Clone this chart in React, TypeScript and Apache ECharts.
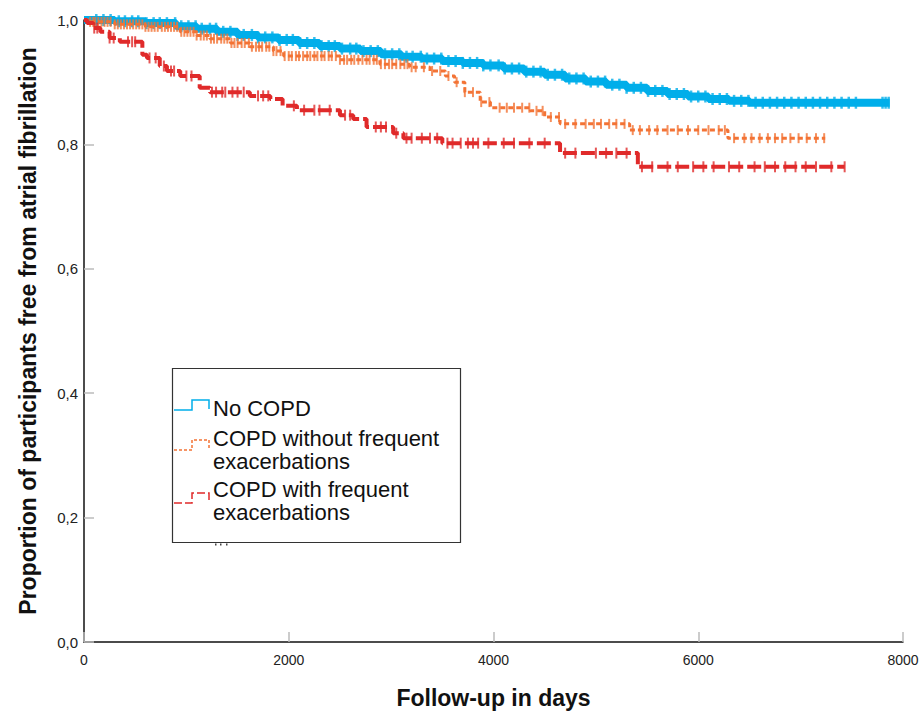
import React, { useEffect, useRef } from 'react';
import * as echarts from 'echarts';

const FONT = "'Liberation Sans', Arial, sans-serif";

const xTicks = [0, 2000, 4000, 6000, 8000];
const yTicks = [0, 0.2, 0.4, 0.6, 0.8, 1.0];

const seriesNames = ['No COPD', 'COPD without frequent\nexacerbations', 'COPD with frequent\nexacerbations'];
const colors = ['#00aeea', '#f37335', '#e02a2a'];

// No COPD
const noCopdTimes = [0, 300, 600, 900, 1100, 1300, 1500, 1700, 1900, 2100, 2300, 2500, 2700, 2900, 3100, 3300, 3500, 3700, 3900, 4100, 4300, 4500, 4700, 4900, 5100, 5300, 5500, 5700, 5900, 6100, 6300, 6500, 7870];
const noCopdSurv = [1.0, 0.998, 0.995, 0.99, 0.986, 0.981, 0.976, 0.972, 0.968, 0.963, 0.958, 0.954, 0.95, 0.945, 0.941, 0.938, 0.934, 0.931, 0.927, 0.922, 0.917, 0.912, 0.906, 0.901, 0.896, 0.891, 0.886, 0.881, 0.877, 0.873, 0.870, 0.867, 0.867];
const noCopdCensor = [120, 190, 260, 340, 400, 470, 530, 610, 680, 740, 810, 890, 950, 1020, 1090, 1150, 1230, 1290, 1360, 1430, 1500, 1560, 1640, 1700, 1770, 1840, 1910, 1980, 2040, 2110, 2180, 2250, 2320, 2390, 2450, 2520, 2600, 2660, 2730, 2800, 2870, 2940, 3010, 3080, 3150, 3210, 3290, 3350, 3420, 3490, 3560, 3630, 3700, 3770, 3840, 3900, 3970, 4050, 4110, 4180, 4250, 4320, 4390, 4460, 4530, 4600, 4670, 4740, 4810, 4880, 4950, 5020, 5090, 5160, 5230, 5300, 5370, 5440, 5510, 5580, 5650, 5720, 5790, 5860, 5930, 6000, 6070, 6140, 6210, 6280, 6350, 6420, 6490, 6560, 6630, 6700, 6770, 6840, 6910, 6980, 7050, 7120, 7190, 7260, 7330, 7400, 7470, 7540, 7800, 7830, 7860];

// COPD without frequent exacerbations
const copdTimes = [0, 60, 300, 600, 940, 1100, 1230, 1430, 1620, 1850, 1950, 2500, 2890, 3180, 3380, 3530, 3620, 3720, 3870, 3970, 4360, 4500, 4650, 5330, 6290, 7240];
const copdSurv = [1.0, 0.997, 0.993, 0.989, 0.981, 0.975, 0.970, 0.963, 0.957, 0.950, 0.942, 0.936, 0.929, 0.924, 0.918, 0.910, 0.900, 0.884, 0.868, 0.859, 0.854, 0.844, 0.833, 0.823, 0.810, 0.810];
const copdCensor = [60, 90, 110, 140, 170, 200, 230, 260, 300, 330, 360, 390, 420, 450, 480, 510, 540, 570, 600, 630, 660, 690, 720, 760, 790, 820, 850, 880, 910, 950, 980, 1010, 1040, 1070, 1100, 1140, 1170, 1200, 1240, 1270, 1300, 1340, 1370, 1400, 1440, 1470, 1500, 1540, 1570, 1610, 1640, 1680, 1710, 1740, 1780, 1810, 1850, 1880, 1920, 1960, 2000, 2030, 2070, 2100, 2140, 2180, 2210, 2250, 2280, 2320, 2350, 2390, 2420, 2460, 2500, 2540, 2570, 2610, 2640, 2680, 2720, 2760, 2790, 2830, 2860, 2900, 2940, 2980, 3010, 3050, 3090, 3130, 3160, 3200, 3240, 3320, 3400, 3480, 3560, 3640, 3720, 3800, 3880, 3960, 4060, 4130, 4200, 4280, 4350, 4420, 4480, 4560, 4640, 4700, 4800, 4900, 4980, 5050, 5130, 5200, 5280, 5360, 5430, 5520, 5600, 5700, 5800, 5900, 6000, 6100, 6200, 6260, 6350, 6450, 6520, 6600, 6680, 6750, 6820, 6900, 6980, 7060, 7150, 7230];

// COPD with frequent exacerbations
const frqTimes = [0, 30, 90, 160, 250, 350, 570, 615, 740, 810, 940, 1130, 1230, 1620, 1820, 1940, 2080, 2500, 2630, 2760, 3020, 3120, 3500, 4650, 5410, 7430];
const frqSurv = [1.0, 0.995, 0.987, 0.981, 0.971, 0.965, 0.944, 0.939, 0.926, 0.918, 0.910, 0.891, 0.884, 0.878, 0.873, 0.862, 0.855, 0.847, 0.841, 0.828, 0.818, 0.810, 0.802, 0.786, 0.764, 0.764];
const frqCensor = [100, 130, 250, 290, 430, 470, 500, 640, 700, 780, 850, 880, 1000, 1050, 1250, 1290, 1350, 1380, 1450, 1500, 1560, 1700, 1750, 1800, 2050, 2150, 2250, 2300, 2400, 2550, 2600, 2850, 2900, 2950, 3050, 3150, 3200, 3300, 3380, 3450, 3550, 3600, 3680, 3750, 3800, 3850, 3950, 4100, 4200, 4350, 4500, 4700, 4800, 5000, 5100, 5200, 5300, 5450, 5550, 5700, 5800, 5950, 6050, 6150, 6300, 6400, 6550, 6650, 6750, 6850, 6950, 7050, 7150, 7300, 7430];

function survAt(times: number[], surv: number[], t: number) {
  let s = surv[0];
  for (let i = 0; i < times.length; i++) {
    if (times[i] <= t) s = surv[i];
  }
  return s;
}

const groups = [
  { times: noCopdTimes, surv: noCopdSurv, censor: noCopdCensor, width: 8, dash: 'solid' as any, tick: [2.5, 12] },
  { times: copdTimes, surv: copdSurv, censor: copdCensor, width: 3, dash: [5, 3], tick: [2, 10] },
  { times: frqTimes, surv: frqSurv, censor: frqCensor, width: 4, dash: [14, 4], tick: [2, 11] },
];

export default function App() {
  const ref = useRef<HTMLDivElement>(null);
  useEffect(() => {
    if (!ref.current) return;
    const chart = echarts.init(ref.current, null, { renderer: 'svg' });
    const series: any[] = [];
    groups.forEach((g, i) => {
      series.push({
        type: 'line',
        name: seriesNames[i],
        step: 'end',
        showSymbol: false,
        data: g.times.map((t, k) => [t, g.surv[k]]),
        lineStyle: { color: colors[i], width: g.width, type: g.dash, cap: 'butt' },
        z: 2 + i * 2,
      });
      series.push({
        type: 'scatter',
        name: seriesNames[i] + ' censored',
        symbol: 'rect',
        symbolSize: g.tick,
        data: g.censor.map((t) => [t, survAt(g.times, g.surv, t)]),
        itemStyle: { color: colors[i] },
        z: 3 + i * 2,
      });
    });
    const legendItems = [
      { y: 400, ty: 396.5, label: seriesNames[0], dash: null as any },
      { y: 440, ty: 426.5, label: seriesNames[1], dash: [3, 2] },
      { y: 493, ty: 477.5, label: seriesNames[2], dash: [8, 3] },
    ];
    const graphic: any[] = [
      {
        type: 'rect',
        shape: { x: 172.5, y: 368.5, width: 288, height: 174 },
        style: { fill: '#fff', stroke: '#333', lineWidth: 1.2 },
        z: 10,
      },
    ];
    [215, 220, 226].forEach((x) => {
      graphic.push({ type: 'rect', shape: { x, y: 543.5, width: 1.5, height: 2 }, style: { fill: '#444' }, z: 10 });
    });
    legendItems.forEach((it, i) => {
      graphic.push({
        type: 'polyline',
        shape: { points: [[174, it.y + 10], [192, it.y + 10], [192, it.y], [209, it.y], [209, it.y + 9]] },
        style: { stroke: colors[i], lineWidth: 1.5, fill: null, lineDash: it.dash },
        z: 11,
      });
      graphic.push({
        type: 'text',
        x: 213,
        y: it.ty,
        style: { text: it.label, font: `22px ${FONT}`, fill: '#111', lineHeight: 23, textVerticalAlign: 'top' },
        z: 11,
      });
    });
    chart.setOption({
      animation: false,
      backgroundColor: '#fff',
      grid: { left: 84, right: 19, top: 20, bottom: 70, outerBoundsMode: 'none', containLabel: false },
      xAxis: {
        type: 'value',
        min: 0,
        max: 8000,
        interval: 2000,
        name: 'Follow-up in days',
        nameLocation: 'middle',
        nameGap: 44,
        nameTextStyle: { fontFamily: FONT, fontSize: 23, fontWeight: 'bold', color: '#111' },
        axisLine: { lineStyle: { color: '#111', width: 1.5 } },
        axisTick: { inside: true, length: 10, lineStyle: { color: '#bbb', width: 1.5 } },
        axisLabel: { fontFamily: FONT, fontSize: 14, color: '#222', margin: 11, formatter: (v: number) => (xTicks.includes(v) ? String(v) : '') },
        splitLine: { show: false },
      },
      yAxis: {
        type: 'value',
        min: 0,
        max: 1,
        interval: 0.2,
        name: 'Proportion of participants free from atrial fibrillation',
        nameLocation: 'middle',
        nameGap: 45,
        nameTextStyle: { fontFamily: FONT, fontSize: 23, fontWeight: 'bold', color: '#111' },
        axisLine: { show: true, lineStyle: { color: '#111', width: 1.5 } },
        axisTick: { show: true, inside: true, length: 10, lineStyle: { color: '#bbb', width: 1.5 } },
        axisLabel: {
          fontFamily: FONT,
          fontSize: 15,
          color: '#222',
          margin: 6,
          formatter: (v: number) => {
            const m = yTicks.find((t) => Math.abs(t - v) < 1e-9);
            return m === undefined ? '' : m.toFixed(1).replace('.', ',');
          },
        },
        splitLine: { show: false },
      },
      series,
      graphic,
    });
    return () => chart.dispose();
  }, []);
  return <div ref={ref} style={{ width: 922, height: 712, position: 'absolute', left: 0, top: 0 }} />;
}
